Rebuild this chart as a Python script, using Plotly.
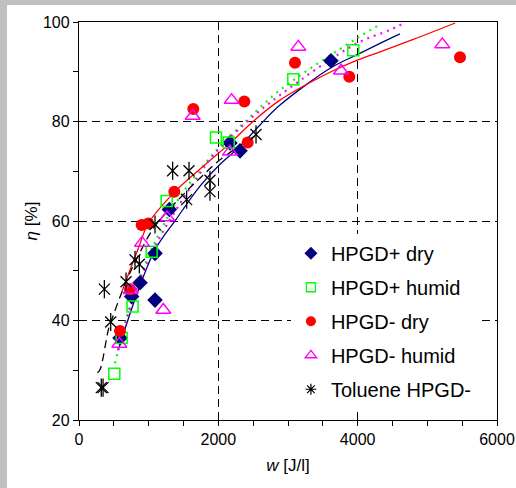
import plotly.graph_objects as go

# ---------------- data ----------------
hp_dry_w = [589, 756, 876, 1091, 1091, 1297, 2167, 2311, 3617]
hp_dry_eta = [36.5, 44.8, 47.6, 44.1, 53.5, 62.3, 75.7, 74.1, 92.2]

hp_hum_w = [507, 612, 769, 1043, 1258, 1966, 2150, 3076, 3937]
hp_hum_eta = [29.3, 36.5, 42.8, 53.8, 64.0, 76.8, 75.8, 88.5, 94.3]

hm_dry_w = [589, 732, 900, 995, 1368, 1641, 2373, 2421, 3100, 3880, 5469]
hm_dry_eta = [37.9, 46.3, 59.2, 59.5, 65.9, 82.5, 84.0, 75.8, 91.8, 89.0, 92.9]

hm_hum_w = [579, 741, 905, 1210, 1265, 1632, 2167, 2191, 3148, 3761, 5215]
hm_hum_eta = [35.3, 46.1, 55.6, 42.1, 60.7, 81.1, 73.9, 84.3, 95.0, 90.2, 95.5]

tol_w = [320, 345, 364, 455, 675, 804, 866, 1091, 1344, 1545, 1579, 1880, 1880, 2541]
tol_eta = [26.5, 26.5, 46.3, 39.7, 47.8, 52.2, 51.3, 59.3, 70.1, 64.3, 70.1, 68.2, 65.9, 77.4]

# fitted curves
fit_hp_dry_w = [565, 700, 851, 1091, 1402, 1737, 2024, 2311, 2598, 2885, 3617, 3986, 4321, 4607]
fit_hp_dry_eta = [34.1, 40.0, 46.1, 54.2, 60.5, 67.0, 71.4, 75.0, 79.3, 83.3, 90.8, 93.4, 95.7, 97.6]

fit_hp_hum_w = [516, 600, 732, 971, 1200, 1450, 1976, 2359, 2885, 3986, 4345]
fit_hp_hum_eta = [31.4, 36.0, 42.8, 52.2, 58.8, 64.9, 74.3, 79.6, 86.3, 96.7, 99.7]

fit_hm_dry_w = [620, 852, 995, 1378, 1833, 2167, 2498, 2885, 3617, 3986, 4321, 4799, 5400]
fit_hm_dry_eta = [46.0, 54.5, 59.5, 65.9, 71.6, 75.6, 80.0, 84.3, 90.0, 92.3, 94.0, 96.5, 99.8]

fit_hm_hum_w = [560, 700, 900, 1150, 1450, 1689, 1928, 2359, 2885, 3986, 4464, 4655]
fit_hm_hum_eta = [34.0, 41.0, 49.0, 56.5, 63.5, 68.6, 73.2, 79.3, 85.3, 95.7, 98.4, 99.7]

fit_tol_w = [265, 301, 421, 455, 675, 850, 1091, 1545, 1750, 2024, 2550]
fit_tol_eta = [29.5, 30.1, 38.1, 39.6, 47.8, 53.0, 59.0, 66.0, 68.8, 72.3, 77.3]

series_names = ["HPGD+ dry", "HPGD+ humid", "HPGD- dry", "HPGD- humid", "Toluene HPGD-"]

x_ticks = [0, 2000, 4000, 6000]
y_ticks = [20, 40, 60, 80, 100]

FONT = "Arial, Liberation Sans, sans-serif"
NAVY, GREEN, RED, MAGENTA, BLACK = "#000080", "#00ff00", "#ff0000", "#ff00ff", "#000000"

fig = go.Figure()

# fit lines
fig.add_trace(go.Scatter(x=fit_hp_dry_w, y=fit_hp_dry_eta, mode="lines", line_shape="spline",
                         line=dict(color=NAVY, width=1.3), showlegend=False, hoverinfo="skip"))
fig.add_trace(go.Scatter(x=fit_hp_hum_w, y=fit_hp_hum_eta, mode="lines", line_shape="spline",
                         line=dict(color=GREEN, width=2.2, dash="2px,5px"), showlegend=False, hoverinfo="skip"))
fig.add_trace(go.Scatter(x=fit_hm_dry_w, y=fit_hm_dry_eta, mode="lines", line_shape="spline",
                         line=dict(color=RED, width=1.3), showlegend=False, hoverinfo="skip"))
fig.add_trace(go.Scatter(x=fit_hm_hum_w, y=fit_hm_hum_eta, mode="lines", line_shape="spline",
                         line=dict(color=MAGENTA, width=2.2, dash="2px,5px"), showlegend=False, hoverinfo="skip"))
fig.add_trace(go.Scatter(x=fit_tol_w, y=fit_tol_eta, mode="lines", line_shape="spline",
                         line=dict(color=BLACK, width=1.3, dash="8px,5px"), showlegend=False, hoverinfo="skip"))

# data markers
fig.add_trace(go.Scatter(x=hp_dry_w, y=hp_dry_eta, mode="markers", name=series_names[0], showlegend=False,
                         marker=dict(symbol="diamond", size=12, color=NAVY, line=dict(width=0))))
fig.add_trace(go.Scatter(x=hp_hum_w, y=hp_hum_eta, mode="markers", name=series_names[1], showlegend=False,
                         marker=dict(symbol="square-open", size=11, color=GREEN, line=dict(width=1.5))))
fig.add_trace(go.Scatter(x=hm_dry_w, y=hm_dry_eta, mode="markers", name=series_names[2], showlegend=False,
                         marker=dict(symbol="circle", size=12, color=RED, line=dict(width=0))))
fig.add_trace(go.Scatter(x=hm_hum_w, y=hm_hum_eta, mode="markers", name=series_names[3], showlegend=False,
                         marker=dict(symbol="triangle-up-open", size=13, color=MAGENTA, line=dict(width=1.5))))
fig.add_trace(go.Scatter(x=tol_w, y=tol_eta, mode="markers", name=series_names[4], showlegend=False,
                         marker=dict(symbol="x-thin-open", size=11, color=BLACK, line=dict(width=1.3, color=BLACK))))
fig.add_trace(go.Scatter(x=tol_w, y=tol_eta, mode="markers", showlegend=False, hoverinfo="skip",
                         marker=dict(symbol="line-ns-open", size=13, color=BLACK, line=dict(width=1.3, color=BLACK))))

# legend entries (smaller symbols, as in the original legend)
legend_styles = [
    dict(symbol="diamond", size=10, color=NAVY, line=dict(width=0)),
    dict(symbol="square-open", size=9, color=GREEN, line=dict(width=1.3)),
    dict(symbol="circle", size=10, color=RED, line=dict(width=0)),
    dict(symbol="triangle-up-open", size=10, color=MAGENTA, line=dict(width=1.3)),
    dict(symbol="asterisk-open", size=9, color=BLACK, line=dict(width=1.2, color=BLACK)),
]
for i, (nm, st) in enumerate(zip(series_names, legend_styles)):
    fig.add_trace(go.Scatter(x=[None], y=[None], mode="markers", name=nm, legendgroup=str(i),
                             marker=st, showlegend=True))

axis_common = dict(
    showline=True, linecolor="black", linewidth=1.3, mirror=True,
    ticks="outside", ticklen=5, tickcolor="black", tickwidth=1,
    showgrid=True, gridcolor="black", gridwidth=1, griddash="8px,5px",
    zeroline=False, automargin=False,
    tickfont=dict(family=FONT, size=16, color="black"),
)

fig.update_layout(
    width=516, height=488,
    margin=dict(l=79, r=19, t=22, b=68),
    paper_bgcolor="white", plot_bgcolor="white",
    font=dict(family=FONT, size=16, color="black"),
    xaxis=dict(range=[0, 6000], tickvals=x_ticks,
               minor=dict(dtick=500, ticks="outside", ticklen=5, tickcolor="black", showgrid=False),
               title=dict(text="<i>w</i> [J/l]", font=dict(family=FONT, size=17), standoff=11),
               **axis_common),
    yaxis=dict(range=[20, 100], tickvals=y_ticks,
               minor=dict(dtick=10, ticks="outside", ticklen=5, tickcolor="black", showgrid=False),
               title=dict(text="<i>η</i> [%]", font=dict(family=FONT, size=17), standoff=0),
               **axis_common),
    legend=dict(x=0.507, y=0.468, xanchor="left", yanchor="top",
                bgcolor="white", borderwidth=0,
                font=dict(family=FONT, size=20, color="black"),
                traceorder="grouped", tracegroupgap=5),
    shapes=[
        dict(type="rect", xref="paper", yref="paper", x0=-79/418, x1=-72/418, y0=-68/398, y1=1 + 22/398,
             fillcolor="#c0c0c0", line=dict(width=0), layer="below"),
        dict(type="rect", xref="paper", yref="paper", x0=-79/418, x1=1 + 19/418, y0=1 + 17/398, y1=1 + 22/398,
             fillcolor="#c0c0c0", line=dict(width=0), layer="below"),
    ],
)

fig.write_html("out.html", config={"displayModeBar": False},
               post_script="document.body.style.margin='0';document.body.style.overflow='hidden';")
